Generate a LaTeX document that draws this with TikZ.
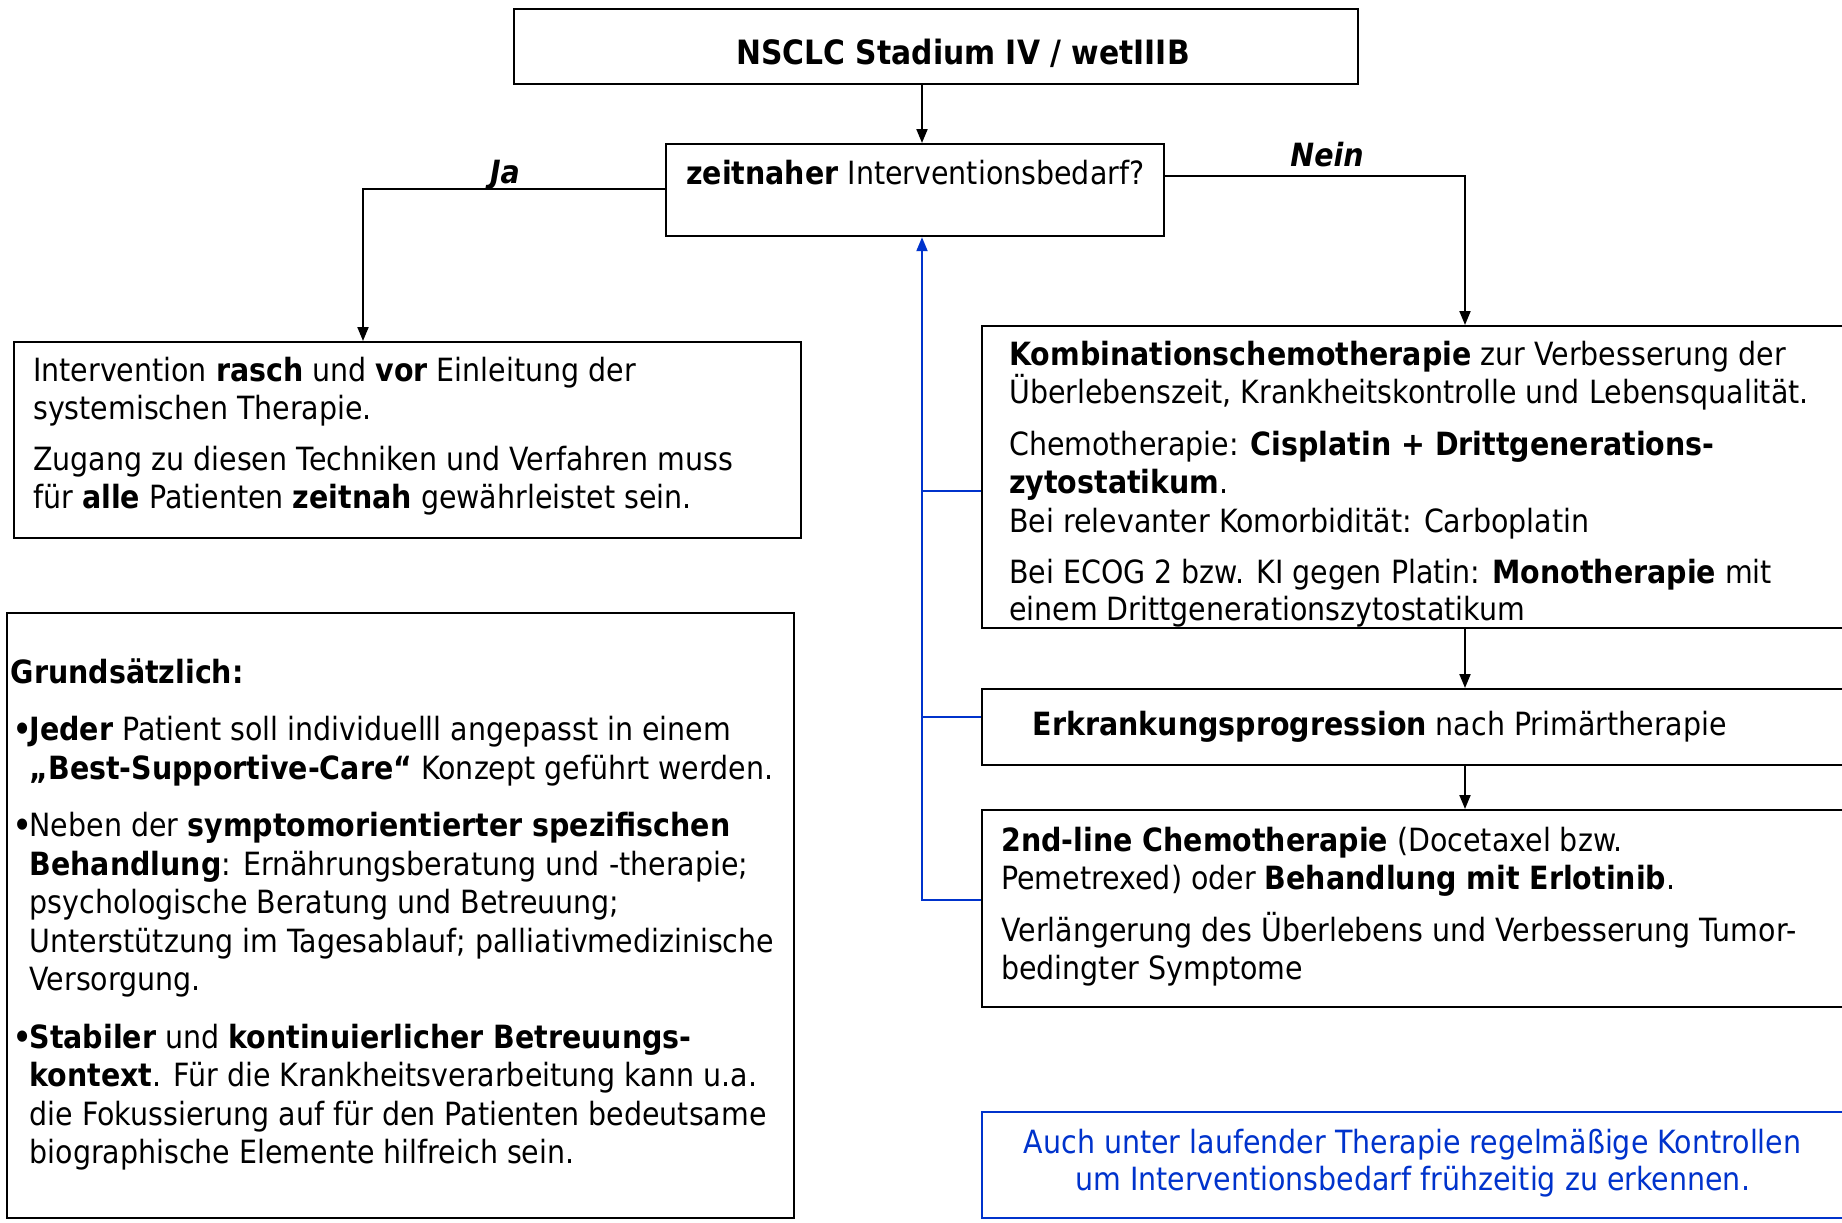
\documentclass[tikz,border=0pt]{standalone}
\usepackage{fontspec}
\setmainfont{DejaVu Sans}[FakeStretch=0.89]
\usetikzlibrary{arrows.meta}
\definecolor{fbblue}{RGB}{0,51,204}
\begin{document}
\begin{tikzpicture}[x=1pt,y=-1pt,
  box/.style={draw, line width=2.2pt, inner sep=0pt, anchor=north west},
  bluebox/.style={box, draw=fbblue},
  txt/.style={inner sep=0pt, anchor=base west, align=left, font=\fontsize{32}{38.5}\selectfont},
  ctxt/.style={inner sep=0pt, anchor=base, align=center, font=\fontsize{32}{37.5}\selectfont},
  conn/.style={line width=2pt, -{Triangle[length=14pt,width=11pt]}},
  fbline/.style={line width=2pt, draw=fbblue},
  fbconn/.style={fbline, -{Triangle[length=14pt,width=11pt]}, fbblue}]
\useasboundingbox (0,0) rectangle (1842,1223);
\clip (0,0) rectangle (1842,1223);
\fill[white] (0,0) rectangle (1842,1223);
% boxes
\node[box, minimum width=844pt, minimum height=75pt] (top) at (513,8) {};
\node[box, minimum width=498pt, minimum height=92pt] (dec) at (665,143) {};
\node[box, minimum width=787pt, minimum height=196pt] (l1) at (13,341) {};
\node[box, minimum width=787pt, minimum height=605pt] (l2) at (6,612) {};
\node[box, minimum width=880pt, minimum height=302pt] (r1) at (981,325) {};
\node[box, minimum width=880pt, minimum height=76pt] (r2) at (981,688) {};
\node[box, minimum width=880pt, minimum height=197pt] (r3) at (981,809) {};
\node[bluebox, minimum width=880pt, minimum height=106pt] (rb) at (981,1111) {};
% texts (multi-line nodes: base = baseline of last line)
\node[ctxt, font=\fontsize{33.5}{38}\selectfont] (toptxt) at (963,64) {\bfseries NSCLC Stadium IV / wetIIIB};
\node[txt] (dectxt) at (686,184) {\textbf{zeitnaher} Interventionsbedarf?};
\node[ctxt] (ja) at (505,183) {\bfseries\itshape Ja};
\node[ctxt] (nein) at (1327,166) {\bfseries\itshape Nein};
\node[txt] (l1txt) at (33,508.5) {Intervention \textbf{rasch} und \textbf{vor} Einleitung der\\
systemischen Therapie.\\[12pt]
Zugang zu diesen Techniken und Verfahren muss\\
für \textbf{alle} Patienten \textbf{zeitnah} gewährleistet sein.};
\node[txt] (l2txt) at (10.6,1163.5) {\textbf{Grundsätzlich:}\\[19pt]
\hspace*{3pt}\makebox[15.8pt][l]{\textbf{•}}\textbf{Jeder} Patient soll individuelll angepasst in einem\\
\hspace*{18.8pt}\textbf{„Best-Supportive-Care“} Konzept geführt werden.\\[19pt]
\hspace*{3pt}\makebox[15.8pt][l]{\textbf{•}}Neben der \textbf{symptomorientierter spezifischen}\\
\hspace*{18.8pt}\textbf{Behandlung}: Ernährungsberatung und -therapie;\\
\hspace*{18.8pt}psychologische Beratung und Betreuung;\\
\hspace*{18.8pt}Unterstützung im Tagesablauf; palliativmedizinische\\
\hspace*{18.8pt}Versorgung.\\[19pt]
\hspace*{3pt}\makebox[15.8pt][l]{\textbf{•}}\textbf{Stabiler} und \textbf{kontinuierlicher Betreuungs-}\\
\hspace*{18.8pt}\textbf{kontext}. Für die Krankheitsverarbeitung kann u.a.\\
\hspace*{18.8pt}die Fokussierung auf für den Patienten bedeutsame\\
\hspace*{18.8pt}biographische Elemente hilfreich sein.};
\node[txt] (r1txt) at (1009,620) {\textbf{Kombinationschemotherapie} zur Verbesserung der\\
Überlebenszeit, Krankheitskontrolle und Lebensqualität.\\[13pt]
Chemotherapie: \textbf{Cisplatin + Drittgenerations-}\\
\textbf{zytostatikum}.\\
Bei relevanter Komorbidität: Carboplatin\\[13pt]
Bei ECOG 2 bzw. KI gegen Platin: \textbf{Monotherapie} mit\\[-2pt]
einem Drittgenerationszytostatikum};
\node[txt] (r2txt) at (1032.6,735) {\textbf{Erkrankungsprogression} nach Primärtherapie};
\node[txt] (r3txt) at (1001,979.5) {\textbf{2nd-line Chemotherapie} (Docetaxel bzw.\\
Pemetrexed) oder \textbf{Behandlung mit Erlotinib}.\\[13pt]
Verlängerung des Überlebens und Verbesserung Tumor-\\
bedingter Symptome};
\node[ctxt, text=fbblue] (rbtxt) at (1412.6,1190.5) {Auch unter laufender Therapie regelmäßige Kontrollen\\
um Interventionsbedarf frühzeitig zu erkennen.};
% helper coordinates
\coordinate (mainX) at (922,0);
\coordinate (jaX) at (363,189);
\coordinate (neinX) at (1465,176);
\coordinate (fb) at (922,900);
% connectors
\draw[conn] (top.south -| mainX) -- (dec.north -| mainX);
\draw[conn] (dec.west |- jaX) -| (l1.north -| jaX);
\draw[conn] (dec.east |- neinX) -| (r1.north -| neinX);
\draw[conn] (r1.south -| neinX) -- (r2.north -| neinX);
\draw[conn] (r2.south -| neinX) -- (r3.north -| neinX);
\draw[fbconn] (r3.west |- fb) -- (fb) -- (dec.south -| fb);
\draw[fbline] (r1.west |- 0,491) -- (fb |- 0,491);
\draw[fbline] (r2.west |- 0,717) -- (fb |- 0,717);
\end{tikzpicture}
\end{document}
